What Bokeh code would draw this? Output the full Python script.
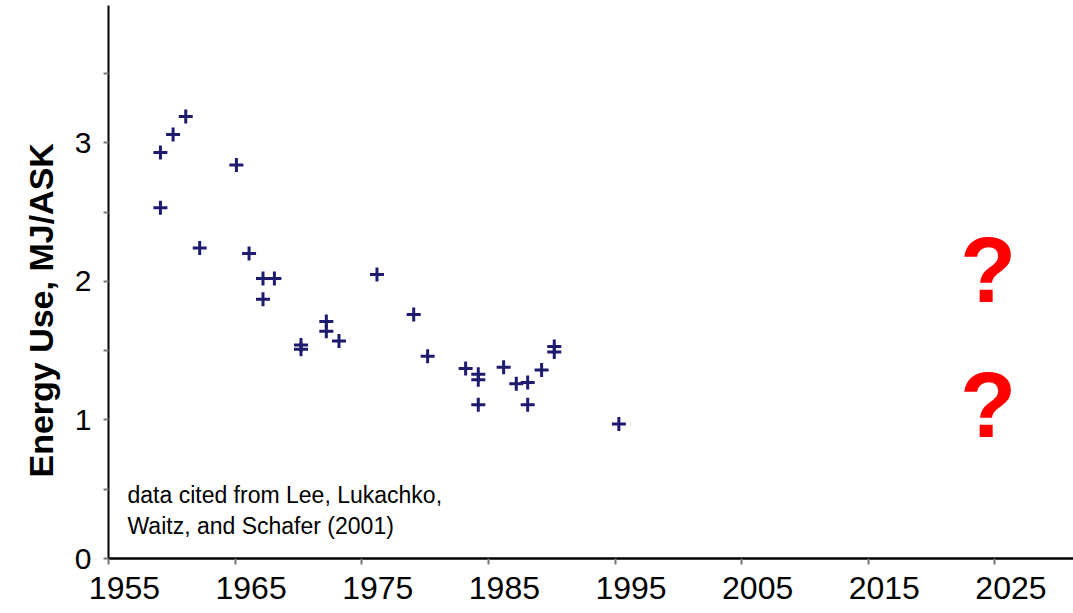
from bokeh.plotting import figure
from bokeh.models import (Range1d, FixedTicker, ColumnDataSource, LinearAxis,
                          CustomJSTickFormatter)
from bokeh.core.properties import value
from bokeh.embed import file_html
from bokeh.resources import INLINE

# Data
years = [1959.1, 1959.1, 1960.1, 1961.1, 1962.2, 1965.1, 1966.1, 1967.2, 1968.1, 1967.2,
         1970.2, 1970.2, 1972.2, 1972.2, 1973.2, 1976.2, 1979.1, 1980.2, 1983.2, 1984.2,
         1984.2, 1984.2, 1986.2, 1987.2, 1988.1, 1988.1, 1989.2, 1990.2, 1990.2, 1995.3]
energy = [2.93, 2.53, 3.06, 3.19, 2.24, 2.84, 2.20, 2.02, 2.02, 1.87,
          1.54, 1.51, 1.71, 1.64, 1.57, 2.05, 1.76, 1.46, 1.37, 1.33,
          1.29, 1.11, 1.38, 1.26, 1.27, 1.11, 1.36, 1.53, 1.49, 0.97]
x_ticks = [1955, 1965, 1975, 1985, 1995, 2005, 2015, 2025]
y_ticks = [0, 1, 2, 3]
y_minor_ticks = [0.5, 1.5, 2.5, 3.5]
note_lines = ["data cited from Lee, Lukachko,", "Waitz, and Schafer (2001)"]
marks = ["?", "?"]

FONT = "Liberation Sans"
LABEL_SHIFT = 1.26  # tick labels sit a little right of their ticks in the reference

p = figure(width=1073, height=613, output_backend="svg", toolbar_location=None,
           x_range=Range1d(1955, 2031.2), y_range=Range1d(0, 3.99),
           min_border_left=108, min_border_right=0, min_border_top=5, min_border_bottom=55)
p.outline_line_color = None
p.grid.grid_line_color = None
p.background_fill_color = "white"
p.border_fill_color = "white"

# x axis: line + tick marks only
xa = p.xaxis[0]
xa.ticker = FixedTicker(ticks=x_ticks, minor_ticks=[])
xa.formatter = CustomJSTickFormatter(code="return '';")
xa.axis_line_color = "black"
xa.axis_line_width = 2.5
xa.major_tick_out = 6
xa.major_tick_in = 0
xa.major_tick_line_color = "#777777"
xa.major_tick_line_width = 2
xa.major_label_text_font_size = "1px"
xa.major_label_standoff = 0

# x axis: labels (slightly offset to the right, as in the reference)
xl = LinearAxis(ticker=FixedTicker(ticks=[t + LABEL_SHIFT for t in x_ticks], minor_ticks=[]),
                formatter=CustomJSTickFormatter(code="return (tick - %s).toFixed(0);" % LABEL_SHIFT))
xl.axis_line_color = None
xl.major_tick_line_color = None
xl.minor_tick_line_color = None
xl.major_tick_out = 0
xl.major_tick_in = 0
xl.major_label_text_font = FONT
xl.major_label_text_font_size = "32px"
xl.major_label_text_color = "black"
xl.major_label_standoff = 12
p.add_layout(xl, "below")

# y axis
ya = p.yaxis[0]
ya.ticker = FixedTicker(ticks=y_ticks, minor_ticks=y_minor_ticks)
ya.axis_line_color = "black"
ya.axis_line_width = 2
ya.major_tick_out = 5
ya.major_tick_in = 0
ya.minor_tick_out = 5
ya.minor_tick_in = 0
ya.major_tick_line_color = "#777777"
ya.minor_tick_line_color = "#777777"
ya.major_tick_line_width = 2
ya.minor_tick_line_width = 2
ya.major_label_text_font = FONT
ya.major_label_text_font_size = "30px"
ya.major_label_text_color = "black"
ya.major_label_standoff = 12
ya.axis_label = "Energy Use, MJ/ASK" + "\u00a0" * 6
ya.axis_label_text_font = FONT
ya.axis_label_text_font_size = "34px"
ya.axis_label_text_font_style = "bold"
ya.axis_label_text_color = "black"
ya.axis_label_standoff = 12

# data points
src = ColumnDataSource(dict(x=years, y=energy))
p.scatter("x", "y", source=src, marker="cross", size=14, line_width=3,
          line_color="#1e1a6e")

# citation note
p.text(x=[1956.5, 1956.5], y=[0.46, 0.233], text=note_lines,
       text_font=value(FONT), text_font_size="23px", text_color="black",
       text_align="left", text_baseline="alphabetic")

# question marks
p.text(x=[2024.45, 2024.45], y=[2.08, 1.108], text=marks,
       text_font=value(FONT), text_font_size="92px", text_font_style="bold",
       text_color="#ff0000", text_align="center", text_baseline="alphabetic")

open("out.html", "w").write(file_html(p, INLINE))
